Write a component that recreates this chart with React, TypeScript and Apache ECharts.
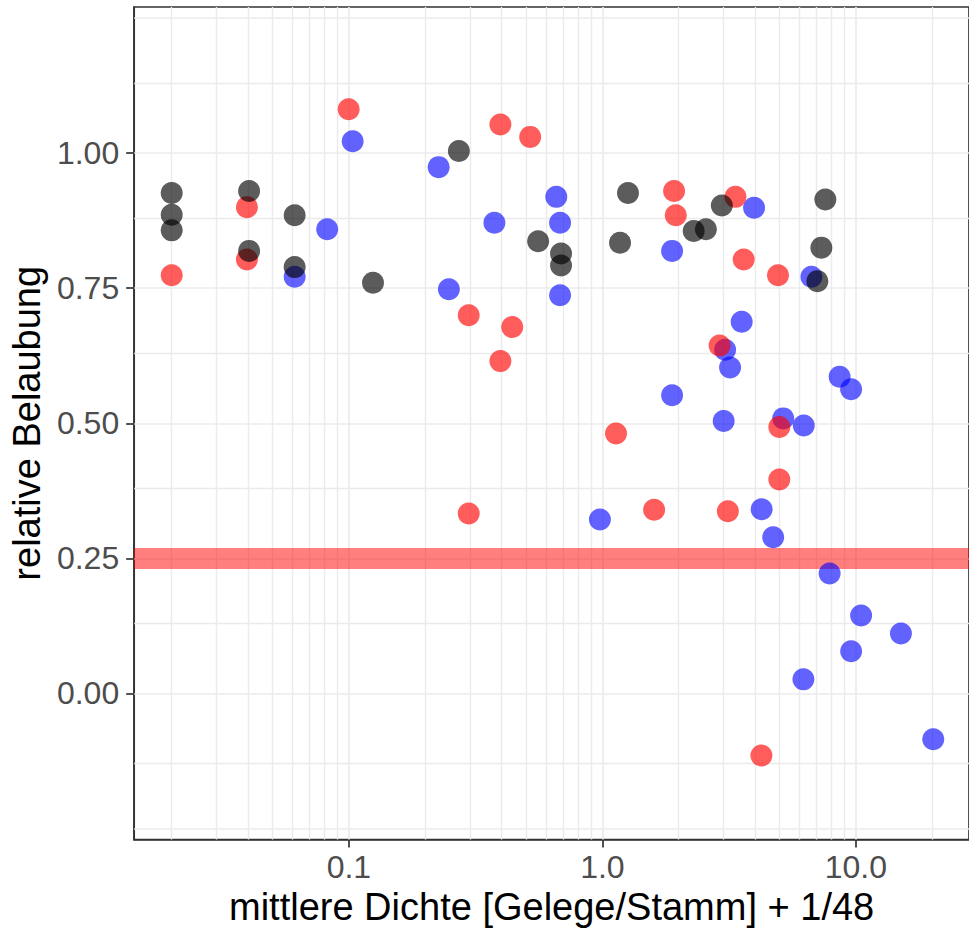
import React, { useEffect, useRef } from "react";
import * as echarts from "echarts";

// ---- data (x: mittlere Dichte + 1/48, y: relative Belaubung) ----
const blackX = [0.02, 0.02, 0.02, 0.0404, 0.0404, 0.0611, 0.0611, 0.1245, 0.2716, 0.558, 0.687, 0.687, 1.174, 1.262, 2.292, 2.561, 2.96, 7.58, 7.31, 7.05];
const blackY = [0.926, 0.886, 0.857, 0.93, 0.819, 0.885, 0.789, 0.76, 1.004, 0.837, 0.814, 0.792, 0.834, 0.926, 0.856, 0.859, 0.903, 0.914, 0.825, 0.763];

const redX = [0.02, 0.0396, 0.0396, 0.0998, 0.396, 0.519, 0.297, 0.441, 0.396, 0.297, 1.132, 1.6, 1.918, 1.948, 2.9, 3.126, 3.35, 3.61, 4.93, 4.99, 4.99, 4.24];
const redY = [0.774, 0.9, 0.803, 1.081, 1.053, 1.03, 0.7, 0.678, 0.615, 0.333, 0.481, 0.34, 0.93, 0.885, 0.644, 0.337, 0.919, 0.803, 0.774, 0.493, 0.396, -0.115];

const blueX = [0.1035, 0.0821, 0.0611, 0.226, 0.248, 0.375, 0.658, 0.681, 0.681, 0.978, 1.884, 1.884, 3.01, 3.05, 3.19, 3.545, 3.967, 4.25, 4.72, 5.17, 6.23, 6.68, 7.88, 8.63, 9.58, 9.58, 10.49, 15.06, 6.21, 20.2];
const blueY = [1.022, 0.859, 0.771, 0.974, 0.748, 0.871, 0.919, 0.871, 0.737, 0.322, 0.819, 0.552, 0.504, 0.636, 0.603, 0.688, 0.899, 0.341, 0.289, 0.509, 0.496, 0.771, 0.222, 0.586, 0.563, 0.078, 0.144, 0.111, 0.026, -0.085];

const thresholdY = 0.25;

const xTicks = [0.1, 1, 10];
const yTicks = [0, 0.25, 0.5, 0.75, 1];
const xMajorGrid = [0.1, 1, 10];
const xMinorGrid = [0.02, 0.03, 0.04, 0.05, 0.06, 0.07, 0.08, 0.09, 0.2, 0.3, 0.4, 0.5, 0.6, 0.7, 0.8, 0.9, 2, 3, 4, 5, 6, 7, 8, 9, 20];
const yMajorGrid = [-0.25, 0, 0.25, 0.5, 0.75, 1, 1.25];
const yMinorGrid = [-0.125, 0.125, 0.375, 0.625, 0.875, 1.125];

const xTitle = "mittlere Dichte [Gelege/Stamm] + 1/48";
const yTitle = "relative Belaubung";

// ---- layout ----
const X_MIN = Math.pow(10, -1.847);
const X_MAX = Math.pow(10, 1.4464);
const Y_MIN = -0.2704;
const Y_MAX = 1.2704;
const FONT = "'Liberation Sans', Arial, Helvetica, sans-serif";
const GRID_COLOR = "#ebebeb";
const DARK = "#333333";

const zip = (xs: number[], ys: number[]) => xs.map((x, i) => [x, ys[i]]);

function buildOption(): any {
  const gridLines = [
    ...xMinorGrid.map((v) => ({ xAxis: v, lineStyle: { width: 1.4, color: GRID_COLOR, type: "solid" } })),
    ...xMajorGrid.map((v) => ({ xAxis: v, lineStyle: { width: 1.7, color: GRID_COLOR, type: "solid" } })),
    ...yMinorGrid.map((v) => ({ yAxis: v, lineStyle: { width: 1.4, color: GRID_COLOR, type: "solid" } })),
    ...yMajorGrid.map((v) => ({ yAxis: v, lineStyle: { width: 1.7, color: GRID_COLOR, type: "solid" } })),
  ];
  const pointSeries = (name: string, data: number[][], color: string) => ({
    type: "scatter",
    name,
    data,
    symbol: "circle",
    symbolSize: 22,
    itemStyle: { color, borderWidth: 0 },
    silent: true,
    z: 3,
  });
  return {
    animation: false,
    backgroundColor: "#ffffff",
    textStyle: { fontFamily: FONT },
    grid: {
      left: 133,
      top: 7,
      right: -3,
      bottom: 91.5,
      show: true,
      borderColor: DARK,
      borderWidth: 1.7,
      backgroundColor: "transparent",
    },
    xAxis: {
      type: "log",
      logBase: 10,
      min: X_MIN,
      max: X_MAX,
      name: xTitle,
      nameLocation: "middle",
      nameGap: 48,
      nameTextStyle: { fontSize: 38, color: "#000000", fontFamily: FONT },
      axisLine: { show: true, onZero: false, lineStyle: { color: DARK, width: 1.7 } },
      axisTick: { show: true, length: 8, customValues: xTicks, lineStyle: { color: DARK, width: 1.7 } },
      axisLabel: {
        customValues: xTicks,
        formatter: (v: number) => Number(v).toFixed(1),
        fontSize: 32,
        color: "#4d4d4d",
        margin: 11,
        fontFamily: FONT,
      },
      splitLine: { show: false },
      minorTick: { show: false },
      minorSplitLine: { show: false },
    },
    yAxis: {
      type: "value",
      min: Y_MIN,
      max: Y_MAX,
      name: yTitle,
      nameLocation: "middle",
      nameGap: 88,
      nameTextStyle: { fontSize: 38, color: "#000000", fontFamily: FONT },
      axisLine: { show: true, onZero: false, lineStyle: { color: DARK, width: 1.7 } },
      axisTick: { show: true, length: 8, customValues: yTicks, lineStyle: { color: DARK, width: 1.7 } },
      axisLabel: {
        customValues: yTicks,
        formatter: (v: number) => Number(v).toFixed(2),
        fontSize: 32,
        color: "#4d4d4d",
        margin: 15,
        fontFamily: FONT,
      },
      splitLine: { show: false },
    },
    series: [
      {
        type: "scatter",
        name: "grid",
        data: [],
        silent: true,
        z: 1,
        markLine: {
          silent: true,
          symbol: "none",
          z: 1,
          label: { show: false },
          emphasis: { disabled: true },
          data: gridLines,
        },
      },
      {
        type: "scatter",
        name: "threshold",
        data: [],
        silent: true,
        z: 2,
        markLine: {
          silent: true,
          symbol: "none",
          z: 2,
          label: { show: false },
          emphasis: { disabled: true },
          lineStyle: { color: "rgba(255,0,0,0.5)", width: 21, type: "solid" },
          data: [{ yAxis: thresholdY }],
        },
      },
      pointSeries("blue", zip(blueX, blueY), "rgba(0,0,255,0.77)"),
      pointSeries("red", zip(redX, redY), "rgba(255,0,0,0.8)"),
      pointSeries("black", zip(blackX, blackY), "rgba(0,0,0,0.8)"),
    ],
  };
}

export default function App() {
  const ref = useRef<HTMLDivElement>(null);
  useEffect(() => {
    document.body.style.margin = "0";
    const chart = echarts.init(ref.current as HTMLDivElement, null, { renderer: "svg" });
    chart.setOption(buildOption());
    return () => chart.dispose();
  }, []);
  return (
    <div
      ref={ref}
      style={{ position: "absolute", left: 0, top: 0, width: 969, height: 931, background: "#ffffff" }}
    />
  );
}
